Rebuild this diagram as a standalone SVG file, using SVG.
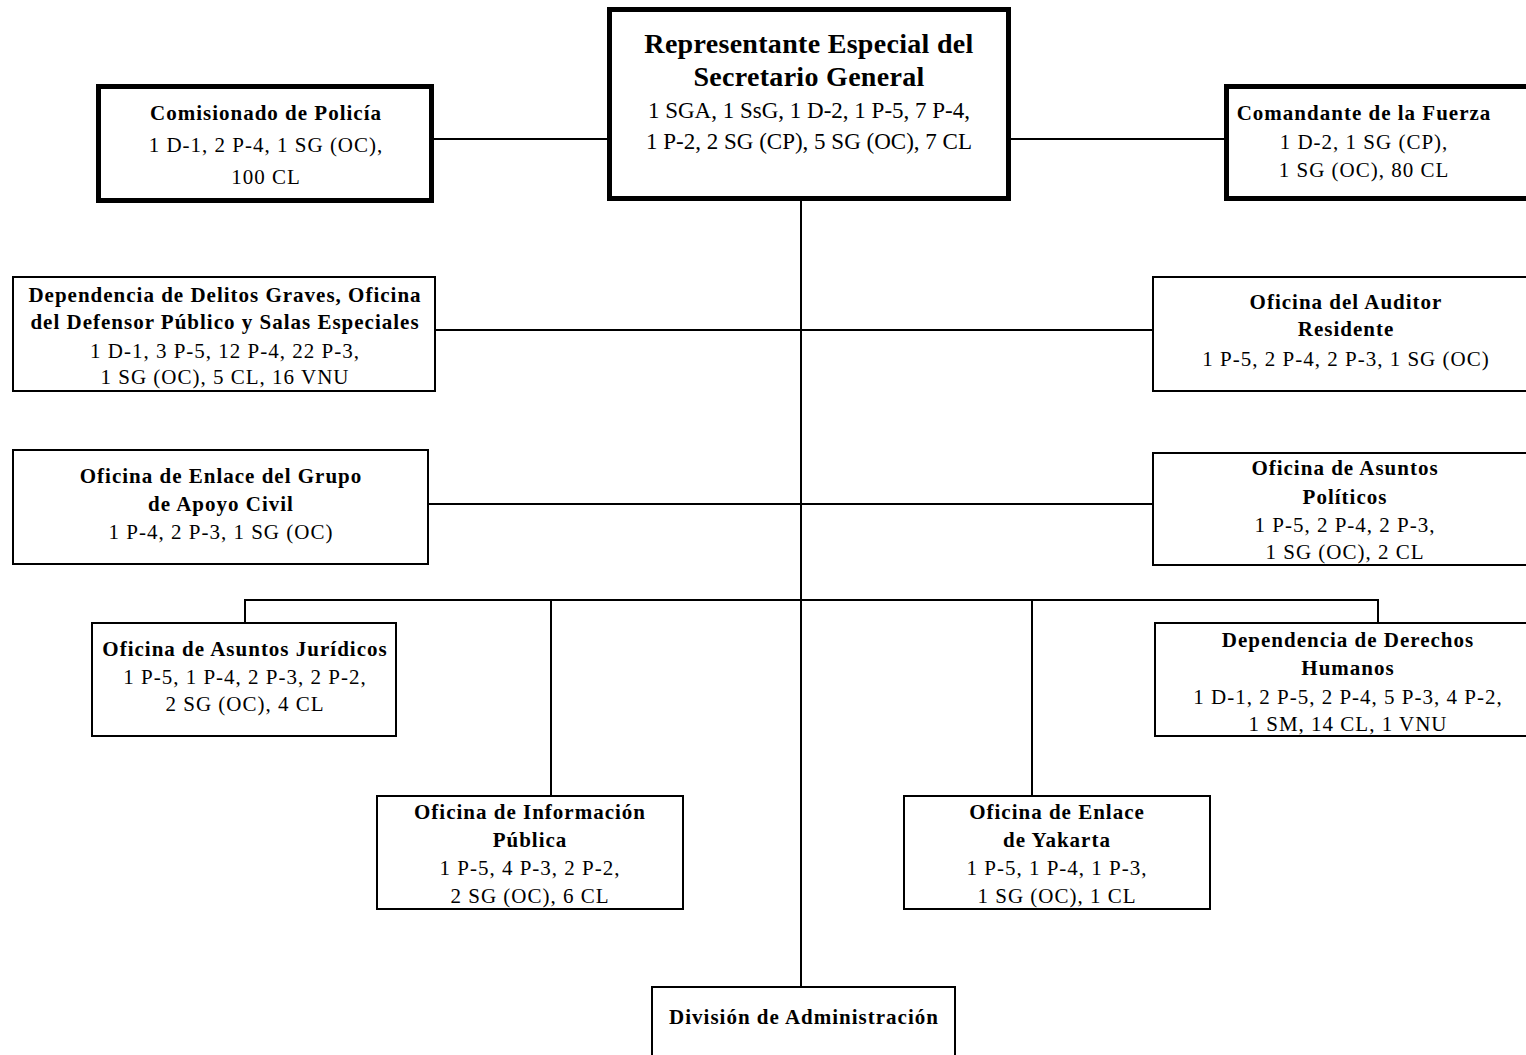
<svg xmlns="http://www.w3.org/2000/svg" width="1526" height="1055" viewBox="0 0 1526 1055">
<style>
  .box { fill: #ffffff; stroke: #000000; stroke-width: 2; }
  .thick { fill: #ffffff; stroke: #000000; stroke-width: 5; }
  .conn { fill: none; stroke: #000000; stroke-width: 2; }
  text { font-family: "Liberation Serif", "Times New Roman", serif; fill: #000000; text-anchor: middle; }
  .t { font-size: 21px; font-weight: bold; letter-spacing: 1px; }
  .s { font-size: 21px; letter-spacing: 1px; }
  .tt { font-size: 28px; font-weight: bold; letter-spacing: 0.3px; }
  .ts { font-size: 23px; }
</style>
<rect x="0" y="0" width="1526" height="1055" fill="#ffffff"/>
<g id="connectors">
  <line class="conn" x1="434" y1="139" x2="607" y2="139"/>
  <line class="conn" x1="1011" y1="139" x2="1224" y2="139"/>
  <line class="conn" x1="801" y1="201" x2="801" y2="987"/>
  <line class="conn" x1="436" y1="330" x2="1153" y2="330"/>
  <line class="conn" x1="429" y1="504" x2="1153" y2="504"/>
  <polyline class="conn" points="245,623 245,600 1378,600 1378,623"/>
  <line class="conn" x1="551" y1="600" x2="551" y2="796"/>
  <line class="conn" x1="1032" y1="600" x2="1032" y2="796"/>
</g>
<g id="node-rsg">
  <rect class="thick" x="609.5" y="9.5" width="399" height="189"/>
  <text class="tt" x="809" y="53">Representante Especial del</text>
  <text class="tt" x="809" y="86">Secretario General</text>
  <text class="ts" x="809" y="118">1 SGA, 1 SsG, 1 D-2, 1 P-5, 7 P-4,</text>
  <text class="ts" x="809" y="149">1 P-2, 2 SG (CP), 5 SG (OC), 7 CL</text>
</g>
<g id="node-policia">
  <rect class="thick" x="98.5" y="86.5" width="333" height="114"/>
  <text class="t" x="266" y="120">Comisionado de Policía</text>
  <text class="s" x="266" y="152">1 D-1, 2 P-4, 1 SG (OC),</text>
  <text class="s" x="266" y="184">100 CL</text>
</g>
<g id="node-fuerza">
  <rect class="thick" x="1226.5" y="86.5" width="320" height="112"/>
  <text class="t" x="1364" y="120">Comandante de la Fuerza</text>
  <text class="s" x="1364" y="149">1 D-2, 1 SG (CP),</text>
  <text class="s" x="1364" y="177">1 SG (OC), 80 CL</text>
</g>
<g id="node-delitos">
  <rect class="box" x="13" y="277" width="422" height="114"/>
  <text class="t" x="225" y="302">Dependencia de Delitos Graves, Oficina</text>
  <text class="t" x="225" y="329">del Defensor Público y Salas Especiales</text>
  <text class="s" x="225" y="358">1 D-1, 3 P-5, 12 P-4, 22 P-3,</text>
  <text class="s" x="225" y="384">1 SG (OC), 5 CL, 16 VNU</text>
</g>
<g id="node-auditor">
  <rect class="box" x="1153" y="277" width="390" height="114"/>
  <text class="t" x="1346" y="309">Oficina del Auditor</text>
  <text class="t" x="1346" y="336">Residente</text>
  <text class="s" x="1346" y="366">1 P-5, 2 P-4, 2 P-3, 1 SG (OC)</text>
</g>
<g id="node-enlace-grupo">
  <rect class="box" x="13" y="450" width="415" height="114"/>
  <text class="t" x="221" y="483">Oficina de Enlace del Grupo</text>
  <text class="t" x="221" y="511">de Apoyo Civil</text>
  <text class="s" x="221" y="539">1 P-4, 2 P-3, 1 SG (OC)</text>
</g>
<g id="node-politicos">
  <rect class="box" x="1153" y="453" width="390" height="112"/>
  <text class="t" x="1345" y="475">Oficina de Asuntos</text>
  <text class="t" x="1345" y="504">Políticos</text>
  <text class="s" x="1345" y="532">1 P-5, 2 P-4, 2 P-3,</text>
  <text class="s" x="1345" y="559">1 SG (OC), 2 CL</text>
</g>
<g id="node-juridicos">
  <rect class="box" x="92" y="623" width="304" height="113"/>
  <text class="t" x="245" y="656">Oficina de Asuntos Jurídicos</text>
  <text class="s" x="245" y="684">1 P-5, 1 P-4, 2 P-3, 2 P-2,</text>
  <text class="s" x="245" y="711">2 SG (OC), 4 CL</text>
</g>
<g id="node-derechos">
  <rect class="box" x="1155" y="623" width="390" height="113"/>
  <text class="t" x="1348" y="647">Dependencia de Derechos</text>
  <text class="t" x="1348" y="675">Humanos</text>
  <text class="s" x="1348" y="704">1 D-1, 2 P-5, 2 P-4, 5 P-3, 4 P-2,</text>
  <text class="s" x="1348" y="731">1 SM, 14 CL, 1 VNU</text>
</g>
<g id="node-informacion">
  <rect class="box" x="377" y="796" width="306" height="113"/>
  <text class="t" x="530" y="819">Oficina de Información</text>
  <text class="t" x="530" y="847">Pública</text>
  <text class="s" x="530" y="875">1 P-5, 4 P-3, 2 P-2,</text>
  <text class="s" x="530" y="903">2 SG (OC), 6 CL</text>
</g>
<g id="node-yakarta">
  <rect class="box" x="904" y="796" width="306" height="113"/>
  <text class="t" x="1057" y="819">Oficina de Enlace</text>
  <text class="t" x="1057" y="847">de Yakarta</text>
  <text class="s" x="1057" y="875">1 P-5, 1 P-4, 1 P-3,</text>
  <text class="s" x="1057" y="903">1 SG (OC), 1 CL</text>
</g>
<g id="node-administracion">
  <rect class="box" x="652" y="987" width="303" height="100"/>
  <text class="t" x="804" y="1024">División de Administración</text>
</g>
</svg>
